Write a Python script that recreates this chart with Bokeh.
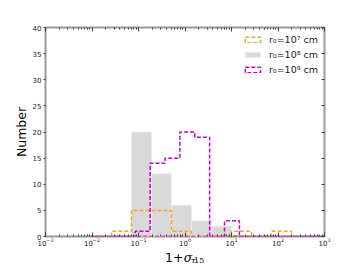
from bokeh.plotting import figure
from bokeh.layouts import column
from bokeh.models import (Range1d, LogAxis, LinearAxis, Label, Legend, LegendItem,
                          FixedTicker, LogTicker, ColumnDataSource)
from bokeh.embed import file_html
from bokeh.resources import INLINE

# ---- data (bin edges given as log10 of 1+sigma) ----
edges_78 = [-1.58, -1.15, -0.72, -0.29, 0.14, 0.57, 1.00, 1.43, 1.86, 2.29]
counts_r7 = [1, 5, 5, 1, 0, 0, 1, 0, 1]
counts_r8 = [0, 20, 12, 6, 3, 2, 0, 0, 0]
edges_9 = [-2.03, -1.71, -1.39, -1.07, -0.75, -0.43, -0.11, 0.21, 0.53,
           0.85, 1.17, 1.49, 1.81, 2.13, 2.45, 2.77, 3.09]
counts_r9 = [0, 0, 0, 1, 14, 15, 20, 19, 0, 3, 0, 0, 0, 0, 0, 0]
series_labels = ["r\u2080=10\u2077 cm", "r\u2080=10\u2078 cm", "r\u2080=10\u2079 cm"]
y_ticks = [0, 5, 10, 15, 20, 25, 30, 35, 40]

ORANGE = "#f5a623"
GRAY = "#d9d9d9"
MAGENTA = "#c800c8"
SPINE = "#9a9a9a"


def step_outline(edges, counts):
    xs = [10 ** edges[0]]
    ys = [0]
    for i, c in enumerate(counts):
        xs += [10 ** edges[i], 10 ** edges[i + 1]]
        ys += [c, c]
    xs.append(10 ** edges[-1])
    ys.append(0)
    return xs, ys


p = figure(width=352, height=248, x_axis_type="log",
           x_range=Range1d(1e-3, 1e3), y_range=Range1d(0, 40),
           output_backend="svg", toolbar_location=None,
           min_border_left=45, min_border_right=28,
           min_border_top=27, min_border_bottom=12)
p.background_fill_color = "white"
p.border_fill_color = "white"
p.xgrid.visible = False
p.ygrid.visible = False
p.outline_line_color = SPINE
p.outline_line_width = 2

# gray filled histogram
gl, gr, gt = [], [], []
for i, c in enumerate(counts_r8):
    if c > 0:
        gl.append(10 ** edges_78[i])
        gr.append(10 ** edges_78[i + 1])
        gt.append(c)
src8 = ColumnDataSource(dict(left=gl, right=gr, top=gt, bottom=[0] * len(gt)))
r8 = p.quad(left="left", right="right", top="top", bottom="bottom", source=src8,
            fill_color=GRAY, line_color="#eeeeee", line_width=1)

# orange outline
x7, y7 = step_outline(edges_78, counts_r7)
r7 = p.patch(x7, y7, fill_color=None, line_color=ORANGE, line_width=1.5,
             line_dash="4 2")

# magenta outline
x9, y9 = step_outline(edges_9, counts_r9)
r9 = p.patch(x9, y9, fill_color=None, line_color=MAGENTA, line_width=1.5,
             line_dash="4 2")

legend = Legend(items=[LegendItem(label=series_labels[0], renderers=[r7]),
                       LegendItem(label=series_labels[1], renderers=[r8]),
                       LegendItem(label=series_labels[2], renderers=[r9])],
                location="top_right")
legend.background_fill_alpha = 0
legend.border_line_color = None
legend.label_text_font = "DejaVu Sans"
legend.label_text_font_size = "9.5px"
legend.label_text_color = "#222222"
legend.glyph_width = 19
legend.glyph_height = 7
legend.label_height = 12
legend.spacing = 3
legend.label_standoff = 7
legend.padding = 2
legend.margin = 6
p.add_layout(legend, "center")

# axes styling
xa = p.xaxis[0]
xa.ticker = LogTicker(desired_num_ticks=7, num_minor_ticks=10)
xa.axis_line_color = None
xa.major_tick_in = 4
xa.major_tick_out = 0
xa.minor_tick_in = 2
xa.minor_tick_out = 0
xa.major_tick_line_color = "#444444"
xa.minor_tick_line_color = "#444444"
xa.major_label_text_font = "DejaVu Sans"
xa.major_label_text_font_size = "7px"
xa.major_label_text_color = "#222222"
xa.major_label_standoff = 1

ya = p.yaxis[0]
ya.ticker = FixedTicker(ticks=y_ticks)
ya.axis_line_color = None
ya.major_tick_in = 0
ya.major_tick_out = 2
ya.minor_tick_line_color = None
ya.major_tick_line_color = "#444444"
ya.major_label_text_font = "DejaVu Sans"
ya.major_label_text_font_size = "7px"
ya.major_label_text_color = "#222222"
ya.major_label_standoff = 2
ya.axis_label = "Number"
ya.axis_label_text_font = "DejaVu Sans"
ya.axis_label_text_font_size = "12.5px"
ya.axis_label_text_font_style = "normal"
ya.axis_label_text_color = "black"
ya.axis_label_standoff = 1

top = LogAxis(ticker=LogTicker(desired_num_ticks=7, num_minor_ticks=10))
top.axis_line_color = None
top.major_tick_in = 4
top.major_tick_out = 0
top.minor_tick_in = 2
top.minor_tick_out = 0
top.major_tick_line_color = "#444444"
top.minor_tick_line_color = "#444444"
top.major_label_text_font_size = "5px"
top.major_label_text_alpha = 0
top.major_label_standoff = 0
p.add_layout(top, "above")

right = LinearAxis(ticker=FixedTicker(ticks=y_ticks))
right.axis_line_color = None
right.major_tick_in = 3
right.major_tick_out = 0
right.minor_tick_line_color = None
right.major_tick_line_color = "#444444"
right.major_label_text_font_size = "5px"
right.major_label_text_alpha = 0
right.major_label_standoff = 0
p.add_layout(right, "right")

# x-axis title strip: real text pieces "1+" sigma with subscript tau15
lab = figure(width=352, height=18, x_range=Range1d(0, 352), y_range=Range1d(0, 18),
             output_backend="svg", toolbar_location=None,
             x_axis_location=None, y_axis_location=None,
             min_border_left=0, min_border_right=0,
             min_border_top=0, min_border_bottom=0)
lab.outline_line_color = None
lab.xgrid.visible = False
lab.ygrid.visible = False
lab.background_fill_color = "white"
lab.border_fill_color = "white"
common = dict(text_baseline="alphabetic", text_color="black")
lab.add_layout(Label(x=174, y=9, text="1+", text_align="right",
                     text_font="DejaVu Sans", text_font_size="12.5px", **common))
lab.add_layout(Label(x=174.5, y=9, text="\u03c3", text_align="left",
                     text_font="DejaVu Serif", text_font_style="italic",
                     text_font_size="12.5px", **common))
lab.add_layout(Label(x=183.5, y=6.5, text="\u03c4", text_align="left",
                     text_font="DejaVu Serif", text_font_style="italic",
                     text_font_size="8px", **common))
lab.add_layout(Label(x=187.5, y=6.5, text="15", text_align="left",
                     text_font="DejaVu Serif", text_font_size="8px", **common))

open("out.html", "w").write(file_html(column(p, lab, spacing=0), INLINE))
